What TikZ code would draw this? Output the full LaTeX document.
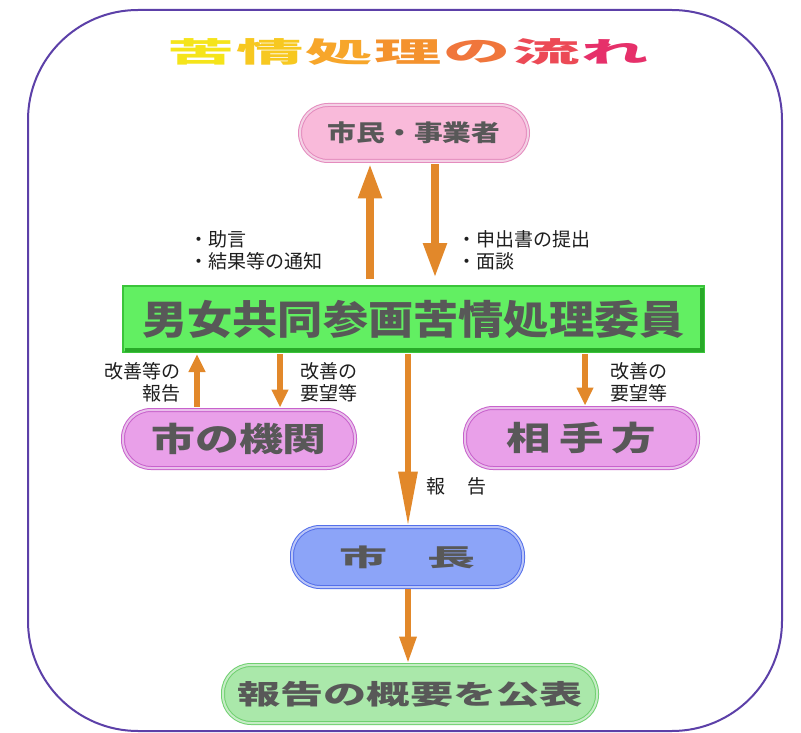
\documentclass[tikz,border=0pt]{standalone}
\usepackage{fontspec}
\usepackage{graphicx}
\newfontfamily\cjk{Noto Sans CJK JP}
\usetikzlibrary{arrows.meta}
\definecolor{framecol}{RGB}{92,64,168}
\definecolor{txtgray}{RGB}{88,88,88}
\definecolor{labcol}{RGB}{30,30,30}
\definecolor{arrcol}{RGB}{226,136,42}
\definecolor{pinkfill}{RGB}{249,186,218}
\definecolor{pinkline}{RGB}{228,140,190}
\definecolor{magfill}{RGB}{233,160,233}
\definecolor{magline}{RGB}{200,98,204}
\definecolor{bluefill}{RGB}{140,164,248}
\definecolor{blueline}{RGB}{84,112,234}
\definecolor{grnfill}{RGB}{98,239,98}
\definecolor{grnline}{RGB}{58,196,58}
\definecolor{grndark}{RGB}{40,170,40}
\definecolor{lgrnfill}{RGB}{170,232,170}
\definecolor{lgrnline}{RGB}{112,208,112}
\definecolor{ta}{RGB}{245,228,26}
\definecolor{tb}{RGB}{247,200,32}
\definecolor{tc}{RGB}{247,166,42}
\definecolor{td}{RGB}{244,146,46}
\definecolor{te}{RGB}{240,118,60}
\definecolor{tf}{RGB}{236,74,86}
\definecolor{tg}{RGB}{230,48,106}
\tikzset{
  pill/.style={draw=#1, double=white!60!#1, double distance=2pt, line width=1pt,
    rounded corners=28pt, inner sep=0pt, text=txtgray},
  lab/.style={text=labcol, inner sep=0pt, font=\cjk\fontsize{19}{22}\selectfont},
  arrbig/.style={draw=arrcol, line width=8pt, -{Triangle[length=35pt,width=22pt]}},
  arrmid/.style={draw=arrcol, line width=6pt, -{Triangle[length=18pt,width=16pt]}},
  arrlong/.style={draw=arrcol, line width=6pt, -{Triangle[length=55pt,width=18pt]}},
  arrlow/.style={draw=arrcol, line width=6pt, -{Triangle[length=27pt,width=16pt]}},
  titlechar/.style={inner sep=0pt, font=\cjk\bfseries\fontsize{28}{28}\selectfont}
}
\begin{document}
\begin{tikzpicture}[x=1pt,y=-1pt]
\useasboundingbox (0,0) rectangle (801,733);
\fill[white] (0,0) rectangle (801,733);
\draw[framecol, line width=2pt, rounded corners=110pt] (28,10) rectangle (782,731);

% title
\foreach \c/\col [count=\i] in {苦/ta,情/tb,処/tc,理/td,の/te,流/tf,れ/tg} {
  \node[titlechar, text=\col] (title\i) at ({201.5+69*(\i-1)},52) {\scalebox{2.4}[1]{\c}};
}

% nodes
\node[pill=pinkline, fill=pinkfill, minimum width=228pt, minimum height=56pt]
  (cit) at (414,133) {\cjk\bfseries\fontsize{23}{23}\selectfont\scalebox{1.25}[1]{市民・事業者}};
\node[draw=grnline, line width=2pt, fill=grnfill, minimum width=581pt, minimum height=66pt,
  inner sep=0pt, text=txtgray]
  (comm) at (413.5,319) {\cjk\bfseries\fontsize{40}{40}\selectfont\scalebox{1.13}[1]{男女共同参画苦情処理委員}};
\draw[grndark, line width=4pt] ([xshift=-3pt,yshift=-3pt]comm.north east) -- ([xshift=-3pt,yshift=3pt]comm.south east) -- ([xshift=3pt,yshift=3pt]comm.south west);
\node[pill=magline, fill=magfill, minimum width=232pt, minimum height=58pt]
  (org) at (239,439) {\cjk\bfseries\fontsize{33}{33}\selectfont\scalebox{1.33}[1]{市の機関}};
\node[pill=magline, fill=magfill, minimum width=233pt, minimum height=60pt]
  (opp) at (581.5,438) {\cjk\bfseries\fontsize{33}{33}\selectfont\scalebox{1.35}[1]{相\hspace{6pt}手\hspace{6pt}方}};
\node[pill=blueline, fill=bluefill, minimum width=231pt, minimum height=60pt]
  (mayor) at (407.5,557) {\cjk\bfseries\fontsize{24}{24}\selectfont\scalebox{2.0}[1]{市\hspace{20pt}長}};
\node[pill=lgrnline, fill=lgrnfill, minimum width=374pt, minimum height=58pt]
  (pub) at (410,694) {\cjk\bfseries\fontsize{27}{27}\selectfont\scalebox{1.6}[1]{報告の概要を公表}};

% arrows
\coordinate (xa) at (370,0);
\coordinate (xb) at (435,0);
\coordinate (xc) at (197,0);
\coordinate (xd) at (280,0);
\coordinate (xe) at (585,0);
\coordinate (xf) at (408,0);
\draw[arrbig, shorten <=6pt, shorten >=2pt] (xa |- comm.north) -- (xa |- cit.south);
\draw[arrbig, shorten <=3pt, shorten >=7pt] (xb |- cit.south) -- (xb |- comm.north);
\draw[arrmid, shorten <=3pt, shorten >=1pt] (xc |- org.north) -- (xc |- comm.south);
\draw[arrmid, shorten <=1pt, shorten >=2pt] (xd |- comm.south) -- (xd |- org.north);
\draw[arrmid, shorten <=1pt, shorten >=2pt] (xe |- comm.south) -- (xe |- opp.north);
\draw[arrlong, shorten <=1pt, shorten >=0pt] (xf |- comm.south) -- (xf |- mayor.north);
\draw[arrlow, shorten <=1pt, shorten >=1pt] (xf |- mayor.south) -- (xf |- pub.north);

% labels
\node[lab, anchor=west, align=left] (l1) at (189,250) {・助言\\・結果等の通知};
\node[lab, anchor=west, align=left] (l2) at (457,250) {・申出書の提出\\・面談};
\node[lab, anchor=east, align=right] (l3) at (181,382) {改善等の\\報告};
\node[lab, anchor=west, align=left] (l4) at (300,382) {改善の\\要望等};
\node[lab, anchor=west, align=left] (l5) at (610,382) {改善の\\要望等};
\node[lab, anchor=west] (l6) at (426,486) {報\hspace{22pt}告};
\end{tikzpicture}
\end{document}
